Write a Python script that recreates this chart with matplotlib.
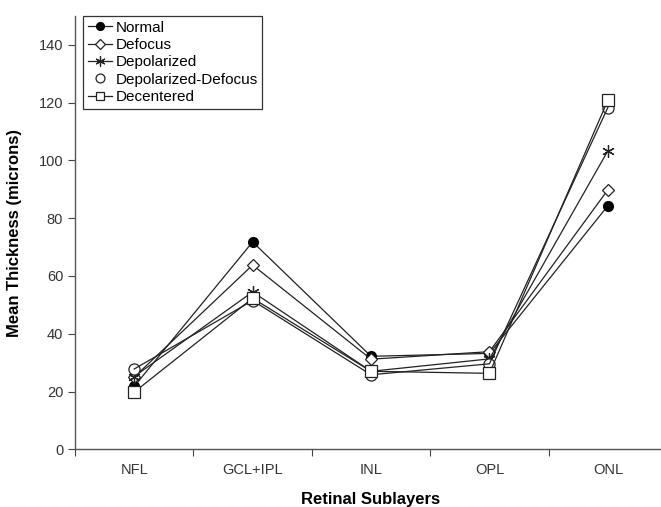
import matplotlib
matplotlib.use("Agg")
import matplotlib.pyplot as plt

plt.rcParams['font.family'] = ['Liberation Sans', 'DejaVu Sans']

# capas de la retina y grosor medio de cada grupo
capas = ["NFL", "GCL+IPL", "INL", "OPL", "ONL"]
normal = [21.8, 71.8, 32.2, 33.2, 84.3]
defocus = [25.0, 63.8, 31.2, 33.8, 89.8]
depolarized = [25.2, 54.5, 27.0, 31.3, 103.3]
depol_defocus = [27.8, 51.5, 25.8, 29.6, 118.3]
decentered = [19.8, 52.3, 27.0, 26.3, 120.8]

fig = plt.figure(figsize=(6.61, 5.07), dpi=100)
ax = fig.add_axes([0.1135, 0.1138, 0.8956, 0.8546])

x = list(range(len(capas)))
kw = dict(color="#222222", linewidth=0.9)
ax.plot(x, normal, marker="o", markersize=7, markerfacecolor="black",
        markeredgecolor="black", label="Normal", **kw)
ax.plot(x, defocus, marker="D", markersize=6, markerfacecolor="white",
        markeredgecolor="#222222", markeredgewidth=0.9, label="Defocus", **kw)
ax.plot(x, depolarized, marker=(6, 2, 0), markersize=9,
        markeredgecolor="#222222", markeredgewidth=0.9, label="Depolarized",
        **kw)
# la serie sin linea en la leyenda, la linea va aparte
ax.plot(x, depol_defocus, marker="o", markersize=8, markerfacecolor="white",
        markeredgecolor="#222222", markeredgewidth=0.9,
        label="Depolarized-Defocus", linestyle="none")
ax.plot(x, depol_defocus, **kw)
ax.plot(x, decentered, marker="s", markersize=8, markerfacecolor="white",
        markeredgecolor="#222222", markeredgewidth=0.9, label="Decentered", **kw)

ax.set_xlim(-0.5, 4.5)
ax.set_ylim(0, 150)
ax.set_yticks(range(0, 141, 20))
ax.set_xticks([-0.5, 0.5, 1.5, 2.5, 3.5, 4.5])
ax.set_xticklabels([])
ax.set_xticks(x, minor=True)
ax.set_xticklabels(capas, minor=True)
ax.tick_params(axis="x", which="minor", length=0, pad=10, labelsize=10.5,
               labelcolor="#333333")
ax.tick_params(axis="x", which="major", length=5, direction="out",
               color="#444444")
ax.tick_params(axis="y", length=5, direction="out", labelsize=10.5,
               labelcolor="#333333", color="#444444")

for lado in ["top", "right"]:
    ax.spines[lado].set_visible(False)
for lado in ["left", "bottom"]:
    ax.spines[lado].set_color("#555555")
    ax.spines[lado].set_linewidth(1.0)

ax.set_xlabel("Retinal Sublayers", fontsize=12, fontweight="bold", labelpad=11)
ax.set_ylabel("Mean Thickness (microns)", fontsize=12, fontweight="bold",
              labelpad=12)

leg = ax.legend(loc="upper left", bbox_to_anchor=(0.014, 1.0), fontsize=11,
                frameon=True, fancybox=False, handlelength=1.6,
                handletextpad=0.2, borderpad=0.3, labelspacing=0.22,
                borderaxespad=0.0, markerscale=0.8)
leg.get_frame().set_edgecolor("black")
leg.get_frame().set_linewidth(0.9)

fig.savefig("out.png", dpi=100)
